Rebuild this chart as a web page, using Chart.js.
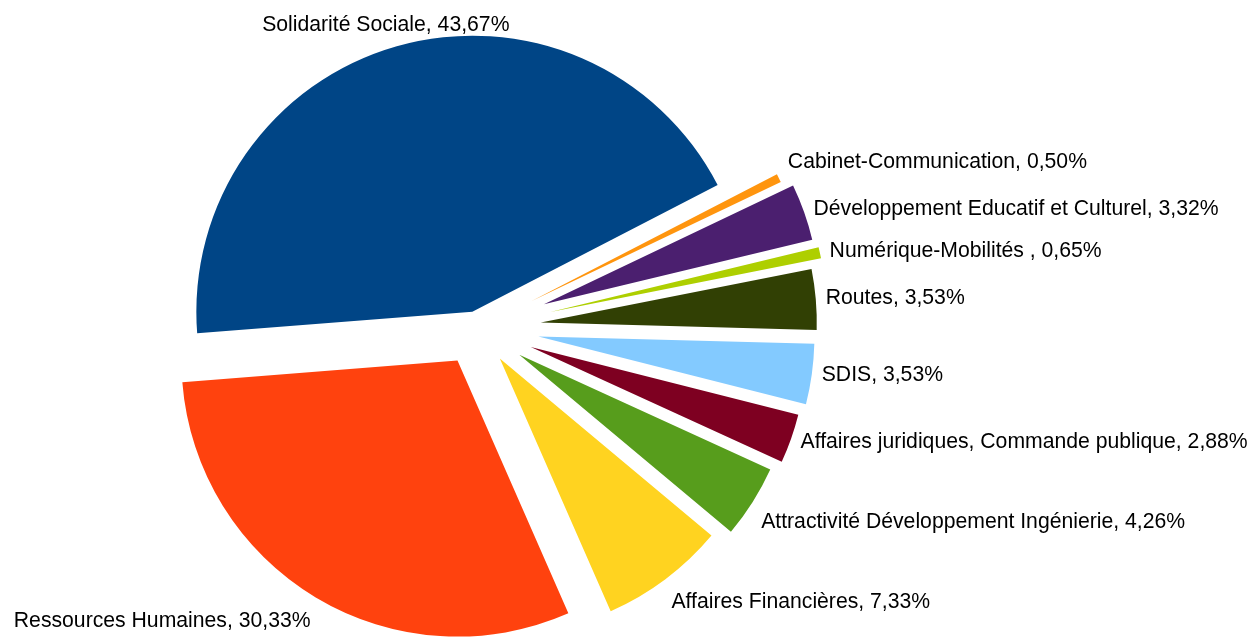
<!DOCTYPE html>
<html>
<head>
<meta charset="utf-8">
<title>Répartition par direction</title>
<script src="https://cdn.jsdelivr.net/npm/chart.js@4.4.1/dist/chart.umd.min.js"></script>
<style>
  html, body { margin: 0; padding: 0; background: #fff; }
  canvas { display: block; }
</style>
</head>
<body>
<canvas id="pieChart" width="1256" height="637"></canvas>
<script>
// Directions, listed clockwise starting with Solidarité Sociale
const categories = [
  'Solidarité Sociale',
  'Cabinet-Communication',
  'Développement Educatif et Culturel',
  'Numérique-Mobilités ',
  'Routes',
  'SDIS',
  'Affaires juridiques, Commande publique',
  'Attractivité Développement Ingénierie',
  'Affaires Financières',
  'Ressources Humaines'
];

// Share of each direction, in percent
const shares = [43.67, 0.50, 3.32, 0.65, 3.53, 3.53, 2.88, 4.26, 7.33, 30.33];

const sliceColors = [
  '#004586', '#ff950e', '#4b1f6f', '#aecf00', '#314004',
  '#83caff', '#7e0021', '#579d1c', '#ffd320', '#ff420e'
];

// How far each slice is pulled out from the centre, in pixels
const explode = [17, 61, 71, 75, 64, 62, 57, 50, 38, 38];

const labelFont = '21.2px "Liberation Sans", Arial, sans-serif';

// "Routes, 3,53%" style label, french decimal comma
function labelText(i) {
  return categories[i] + ', ' + shares[i].toFixed(2).replace('.', ',') + '%';
}

// Moves every arc out along its middle angle
const explodePlugin = {
  id: 'explodeSlices',
  beforeDatasetsDraw(chart) {
    let area = chart.chartArea;
    let cx = (area.left + area.right) / 2;
    let cy = (area.top + area.bottom) / 2;
    chart.getDatasetMeta(0).data.forEach((arc, i) => {
      let mid = (arc.startAngle + arc.endAngle) / 2;
      arc.x = cx + explode[i] * Math.cos(mid);
      arc.y = cy + explode[i] * Math.sin(mid);
    });
  }
};

// Writes the name and percentage just outside each slice
const sliceLabelPlugin = {
  id: 'sliceLabels',
  afterDatasetsDraw(chart) {
    let ctx = chart.ctx;
    ctx.save();
    ctx.font = labelFont;
    ctx.fillStyle = '#000000';
    ctx.textBaseline = 'middle';
    chart.getDatasetMeta(0).data.forEach((arc, i) => {
      let mid = (arc.startAngle + arc.endAngle) / 2;
      let cos = Math.cos(mid);
      let sin = Math.sin(mid);
      let r = arc.outerRadius + 10;
      let x = arc.x + r * cos;
      let y = arc.y + r * sin;

      if (cos > 0.3) {
        ctx.textAlign = 'left';
      } else if (cos < -0.3) {
        ctx.textAlign = 'right';
      } else {
        ctx.textAlign = 'center';
        x += cos * 30;
      }

      if (sin < -0.4) y -= 11.5;
      else if (sin > 0.4) y += 15;

      ctx.fillText(labelText(i), x, y);
    });
    ctx.restore();
  }
};

document.addEventListener('DOMContentLoaded', function () {
  let ctx = document.getElementById('pieChart').getContext('2d');

  new Chart(ctx, {
    type: 'pie',
    data: {
      labels: categories,
      datasets: [{
        data: shares,
        backgroundColor: sliceColors,
        borderWidth: 0,
        radius: 276,
        clip: false
      }]
    },
    options: {
      responsive: false,
      animation: false,
      rotation: 265.5,
      layout: {
        padding: { left: 0, right: 302, top: 19, bottom: 0 }
      },
      plugins: {
        legend: { display: false },
        tooltip: { enabled: false }
      }
    },
    plugins: [explodePlugin, sliceLabelPlugin]
  });
});
</script>
</body>
</html>
